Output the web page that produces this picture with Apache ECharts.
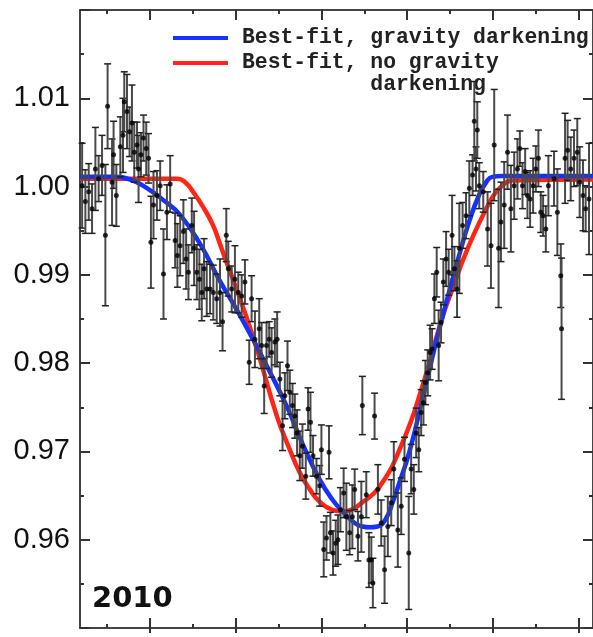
<!DOCTYPE html>
<html>
<head>
<meta charset="utf-8">
<script src="https://cdn.jsdelivr.net/npm/echarts@6/dist/echarts.min.js"></script>
<style>
html,body{margin:0;padding:0;background:#fff;}
#main{width:593px;height:637px;}
</style>
</head>
<body>
<div id="main"></div>
<script>
// ---- data (time in arbitrary units, relative flux) ----
var time = [
-2.792,-2.754,-2.715,-2.676,-2.637,-2.599,-2.559,-2.520,-2.494,-2.442,
-2.424,-2.392,-2.345,-2.314,-2.299,-2.267,-2.237,-2.209,-2.182,-2.150,
-2.132,-2.104,-2.074,-2.042,-2.015,-1.987,-1.957,-1.917,-1.879,-1.840,
-1.800,-1.762,-1.704,-1.677,-1.645,-1.607,-1.575,-1.548,-1.509,-1.482,
-1.450,-1.420,-1.392,-1.365,-1.334,-1.295,-1.257,-1.217,-1.179,-1.149,
-1.105,-1.082,-1.042,-1.004,-0.965,-0.925,-0.887,-0.837,-0.809,-0.770,
-0.720,-0.692,-0.662,-0.634,-0.603,-0.575,-0.537,-0.510,-0.478,-0.447,
-0.420,-0.389,-0.362,-0.330,-0.303,-0.277,-0.245,-0.214,-0.175,-0.148,
-0.120,-0.090,-0.050,-0.012,0.008,0.035,0.067,0.097,0.113,0.144,
0.175,0.202,0.230,0.268,0.300,0.338,0.370,0.397,0.435,0.475,
0.487,0.533,0.564,0.592,0.610,0.630,0.669,0.708,0.747,0.785,
0.825,0.855,0.902,0.942,0.980,1.030,1.058,1.089,1.117,1.147,
1.175,1.202,1.225,1.252,1.280,1.303,1.330,1.357,1.380,1.408,
1.435,1.467,1.497,1.537,1.564,1.595,1.622,1.660,1.700,1.739,
1.777,1.797,1.817,1.832,1.855,1.902,1.952,1.992,2.030,2.081,
2.109,2.147,2.186,2.225,2.264,2.302,2.330,2.361,2.392,2.419,
2.450,2.485,2.517,2.547,2.575,2.602,2.634,2.664,2.730,2.769,
2.809,2.818,2.859,2.889,2.925,2.964,3.002,3.030,3.069,3.100,
3.139];
var flux = [
1.0001,0.9983,0.9994,0.9975,1.0020,1.0009,1.0024,0.9945,1.0091,1.0005,
1.0036,0.9990,1.0045,1.0058,1.0096,1.0085,1.0062,1.0072,1.0039,1.0047,
1.0020,1.0036,1.0055,1.0043,1.0032,0.9937,0.9979,0.9990,1.0001,0.9901,
0.9971,1.0003,0.9939,0.9922,0.9933,0.9949,0.9918,0.9903,0.9956,0.9930,
0.9903,0.9895,0.9880,0.9907,0.9884,0.9884,0.9880,0.9873,0.9880,0.9847,
0.9945,0.9907,0.9884,0.9895,0.9880,0.9876,0.9892,0.9801,0.9873,0.9827,
0.9839,0.9820,0.9774,0.9820,0.9827,0.9812,0.9824,0.9827,0.9782,0.9729,
0.9763,0.9797,0.9767,0.9752,0.9740,0.9721,0.9695,0.9706,0.9672,0.9748,
0.9733,0.9695,0.9672,0.9661,0.9702,0.9589,0.9602,0.9699,0.9608,0.9585,
0.9596,0.9600,0.9634,0.9653,0.9626,0.9608,0.9626,0.9657,0.9604,0.9626,
0.9752,0.9651,0.9577,0.9577,0.9551,0.9740,0.9657,0.9619,0.9566,0.9615,
0.9642,0.9680,0.9611,0.9638,0.9691,0.9585,0.9680,0.9657,0.9721,0.9702,
0.9744,0.9755,0.9778,0.9789,0.9812,0.9816,0.9873,0.9903,0.9820,0.9846,
0.9892,0.9918,0.9903,0.9945,0.9907,0.9884,0.9930,0.9956,0.9967,0.9998,
1.0013,1.0074,1.0020,1.0064,1.0001,0.9994,0.9952,0.9933,1.0047,0.9930,
0.9960,0.9979,1.0039,0.9975,1.0001,1.0020,1.0043,1.0001,1.0017,0.9990,
0.9986,1.0001,1.0020,1.0032,0.9971,0.9967,0.9952,1.0001,1.0009,0.9971,
0.9899,0.9839,1.0032,1.0041,1.0020,1.0032,1.0039,1.0005,0.9990,0.9975,
0.9986];
var fluxErr = [
0.0048,0.0036,0.0032,0.0028,0.0047,0.0026,0.0034,0.0080,0.0048,0.0049,
0.0038,0.0035,0.0034,0.0042,0.0034,0.0042,0.0028,0.0043,0.0034,0.0026,
0.0038,0.0025,0.0026,0.0030,0.0028,0.0052,0.0038,0.0028,0.0028,0.0051,
0.0031,0.0032,0.0031,0.0036,0.0034,0.0036,0.0034,0.0031,0.0031,0.0042,
0.0031,0.0034,0.0032,0.0034,0.0031,0.0028,0.0031,0.0028,0.0038,0.0033,
0.0030,0.0031,0.0026,0.0038,0.0023,0.0024,0.0025,0.0025,0.0026,0.0032,
0.0034,0.0026,0.0031,0.0026,0.0020,0.0028,0.0026,0.0031,0.0019,0.0028,
0.0026,0.0028,0.0025,0.0025,0.0025,0.0026,0.0028,0.0025,0.0026,0.0024,
0.0034,0.0023,0.0020,0.0023,0.0028,0.0031,0.0025,0.0030,0.0023,0.0025,
0.0026,0.0028,0.0025,0.0028,0.0038,0.0025,0.0036,0.0023,0.0028,0.0040,
0.0033,0.0026,0.0031,0.0026,0.0028,0.0026,0.0028,0.0026,0.0038,0.0034,
0.0026,0.0031,0.0042,0.0032,0.0025,0.0064,0.0028,0.0028,0.0028,0.0025,
0.0026,0.0025,0.0025,0.0026,0.0031,0.0023,0.0028,0.0028,0.0040,0.0023,
0.0026,0.0031,0.0026,0.0045,0.0025,0.0032,0.0051,0.0026,0.0026,0.0031,
0.0023,0.0045,0.0025,0.0032,0.0026,0.0023,0.0042,0.0048,0.0063,0.0067,
0.0045,0.0049,0.0042,0.0049,0.0038,0.0034,0.0020,0.0026,0.0026,0.0026,
0.0032,0.0031,0.0026,0.0032,0.0023,0.0023,0.0026,0.0034,0.0031,0.0049,
0.0036,0.0080,0.0051,0.0034,0.0036,0.0032,0.0038,0.0040,0.0040,0.0026,
0.0063];

// best-fit model, gravity darkening
var gdTime = [-2.817,-2.427,-2.229,-2.030,-1.820,-1.645,-1.412,-1.179,-0.980,-0.793,-0.595,-0.397,-0.210,-0.012,0.140,0.257,0.397,0.490,0.572,0.665,0.758,0.840,0.922,1.039,1.190,1.307,1.389,1.505,1.622,1.739,1.855,1.937,2.007,2.124,3.186];
var gdFlux = [1.0011,1.0011,1.0008,0.9998,0.9983,0.9968,0.9935,0.9893,0.9860,0.9827,0.9790,0.9751,0.9708,0.9668,0.9645,0.9632,0.9619,0.9615,0.9614,0.9615,0.9623,0.9642,0.9665,0.9700,0.9759,0.9807,0.9839,0.9882,0.9923,0.9961,0.9991,1.0005,1.0011,1.0012,1.0012];
// best-fit model, no gravity darkening
var ngdTime = [-2.817,-1.680,-1.587,-1.494,-1.377,-1.260,-1.179,-1.097,-0.945,-0.747,-0.513,-0.362,-0.245,-0.128,-0.012,0.128,0.257,0.362,0.455,0.688,0.957,1.190,1.424,1.564,1.657,1.797,1.937,2.030,2.124,2.240,3.186];
var ngdFlux = [1.0009,1.0009,1.0005,0.9994,0.9977,0.9956,0.9935,0.9913,0.9873,0.9816,0.9740,0.9702,0.9676,0.9657,0.9643,0.9634,0.9632,0.9634,0.9640,0.9660,0.9710,0.9774,0.9852,0.9890,0.9915,0.9947,0.9975,0.9991,1.0001,1.0007,1.0008];

var yTicks = [0.95, 1.02, 0.01]; // min, max, step
var seriesNames = ['Best-fit, gravity darkening', 'Best-fit, no gravity darkening'];
var legendLines2 = ['Best-fit, no gravity', '          darkening'];
var yearLabel = '2010';

// ---- build ----
function zip2(a, b){ return a.map(function(v,i){ return [v, b[i]]; }); }
var pts = time.map(function(t,i){ return [t, flux[i], fluxErr[i]]; });
var X0 = -2.817, X1 = 3.186;
var axisCol = '#444';
var tickCol = '#333';

var chart = echarts.init(document.getElementById('main'));
var monoText = {fontFamily:'Liberation Mono', fontWeight:'bold', fontSize:21.4, color:'#222', lineHeight:22, padding:[0,0,0,9]};

chart.setOption({
  animation:false,
  backgroundColor:'#ffffff',
  title:{text:yearLabel, left:92, top:584, padding:0,
    textStyle:{fontFamily:'DejaVu Sans', fontWeight:'bold', fontSize:29, lineHeight:30, color:'#111'}},
  legend:[
    {data:[seriesNames[0]], left:173, top:27, padding:0, orient:'vertical', icon:'rect',
     itemWidth:55, itemHeight:4, selectedMode:false, textStyle:monoText},
    {data:[seriesNames[1]], left:173, top:30, padding:0, orient:'vertical', icon:'rect',
     itemWidth:55, itemHeight:4, selectedMode:false,
     formatter:function(){ return '\u00a0\n' + legendLines2.join('\n'); },
     textStyle:monoText}
  ],
  grid:[
    {left:80, top:10, width:514, height:618},
    {left:150, top:10, width:428.5, height:618},
    {left:107.2, top:10, width:428.5, height:618}
  ],
  xAxis:[
    {gridIndex:0, type:'value', min:X0, max:X1, position:'bottom',
     axisLine:{show:true, onZero:false, lineStyle:{color:axisCol, width:2}},
     axisTick:{show:false}, axisLabel:{show:false}, splitLine:{show:false}},
    {gridIndex:0, type:'value', min:X0, max:X1, position:'top',
     axisLine:{show:true, onZero:false, lineStyle:{color:axisCol, width:2}},
     axisTick:{show:false}, axisLabel:{show:false}, splitLine:{show:false}},
    {gridIndex:1, type:'value', min:0, max:5, interval:1, position:'bottom',
     axisLine:{show:false, onZero:false}, axisTick:{show:true, inside:true, length:10, lineStyle:{color:tickCol, width:2}},
     axisLabel:{show:false}, splitLine:{show:false}},
    {gridIndex:1, type:'value', min:0, max:5, interval:1, position:'bottom',
     axisLine:{show:false, onZero:false}, axisTick:{show:true, inside:false, length:5, lineStyle:{color:tickCol, width:2}},
     axisLabel:{show:false}, splitLine:{show:false}},
    {gridIndex:1, type:'value', min:0, max:5, interval:1, position:'top',
     axisLine:{show:false, onZero:false}, axisTick:{show:true, inside:true, length:10, lineStyle:{color:tickCol, width:2}},
     axisLabel:{show:false}, splitLine:{show:false}},
    {gridIndex:2, type:'value', min:0, max:5, interval:1, position:'bottom',
     axisLine:{show:false, onZero:false}, axisTick:{show:true, inside:true, length:4, lineStyle:{color:tickCol, width:2}},
     axisLabel:{show:false}, splitLine:{show:false}},
    {gridIndex:2, type:'value', min:0, max:5, interval:1, position:'top',
     axisLine:{show:false, onZero:false}, axisTick:{show:true, inside:true, length:4, lineStyle:{color:tickCol, width:2}},
     axisLabel:{show:false}, splitLine:{show:false}}
  ],
  yAxis:[
    {gridIndex:0, type:'value', min:yTicks[0], max:yTicks[1], interval:yTicks[2], position:'left',
     axisLine:{show:true, onZero:false, lineStyle:{color:axisCol, width:2}},
     axisTick:{show:true, inside:true, length:10, lineStyle:{color:tickCol, width:2}},
     minorTick:{show:true, splitNumber:2, length:4, lineStyle:{color:tickCol, width:2}},
     axisLabel:{margin:10, fontFamily:'Liberation Sans', fontSize:29, color:'#111',
       formatter:function(v){ if (Math.abs(v-yTicks[0])<1e-6 || Math.abs(v-yTicks[1])<1e-6) return ''; return v.toFixed(2); }},
     splitLine:{show:false}, minorSplitLine:{show:false}},
    {gridIndex:0, type:'value', min:yTicks[0], max:yTicks[1], interval:yTicks[2], position:'right',
     axisLine:{show:true, onZero:false, lineStyle:{color:axisCol, width:2}},
     axisTick:{show:true, inside:true, length:10, lineStyle:{color:tickCol, width:2}},
     minorTick:{show:true, splitNumber:2, length:4, lineStyle:{color:tickCol, width:2}},
     axisLabel:{show:false}, splitLine:{show:false}, minorSplitLine:{show:false}},
    {gridIndex:1, type:'value', min:0, max:1, show:false},
    {gridIndex:2, type:'value', min:0, max:1, show:false}
  ],
  series:[
    {name:seriesNames[1], type:'line', xAxisIndex:0, yAxisIndex:0, data:zip2(ngdTime, ngdFlux),
     showSymbol:false, symbol:'none', smooth:0.5, z:2,
     itemStyle:{color:'#ff2414'}, lineStyle:{color:'#ff2414', width:4.5}},
    {name:seriesNames[0], type:'line', xAxisIndex:0, yAxisIndex:0, data:zip2(gdTime, gdFlux),
     showSymbol:false, symbol:'none', smooth:0.5, z:3,
     itemStyle:{color:'#1432ff'}, lineStyle:{color:'#1432ff', width:4.5}},
    {name:'errors', type:'custom', xAxisIndex:0, yAxisIndex:0, data:pts, z:4,
     renderItem:function(params, api){
       var x = api.value(0), y = api.value(1), e = api.value(2);
       var a = api.coord([x, y+e]), b = api.coord([x, y-e]);
       var hw = 3.5;
       var st = {stroke:'#4a4a4a', lineWidth:2};
       return {type:'group', children:[
         {type:'line', shape:{x1:a[0], y1:a[1], x2:b[0], y2:b[1]}, style:st},
         {type:'line', shape:{x1:a[0]-hw, y1:a[1], x2:a[0]+hw, y2:a[1]}, style:{stroke:'#222', lineWidth:1.5}},
         {type:'line', shape:{x1:b[0]-hw, y1:b[1], x2:b[0]+hw, y2:b[1]}, style:{stroke:'#222', lineWidth:1.5}}
       ]};
     }},
    {name:'data', type:'scatter', xAxisIndex:0, yAxisIndex:0, data:pts, z:5,
     symbol:'circle', symbolSize:5, itemStyle:{color:'#000'}}
  ]
});
</script>
</body>
</html>
